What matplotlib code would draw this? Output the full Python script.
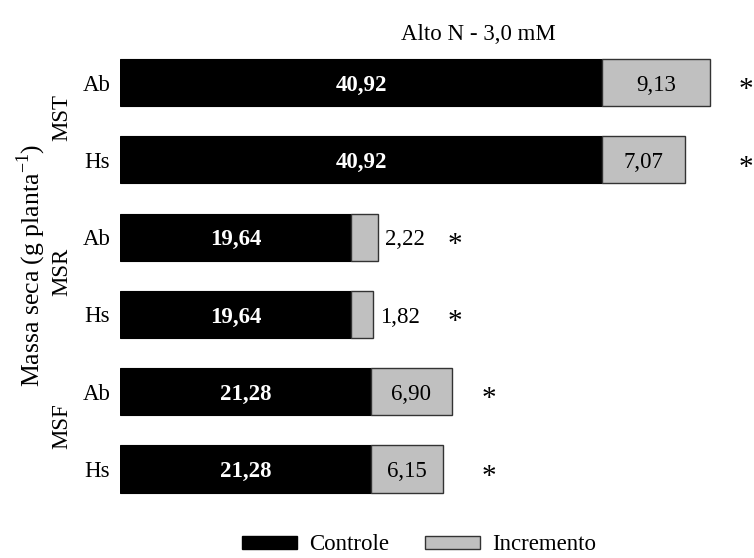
import matplotlib
matplotlib.use("Agg")
import matplotlib.pyplot as plt
from matplotlib.patches import Patch

plt.rcParams['font.family'] = ['Liberation Serif', 'DejaVu Serif']
plt.rcParams['mathtext.fontset'] = 'custom'
plt.rcParams['mathtext.rm'] = 'Liberation Serif'

# Dry mass (g planta-1): control + increment, per organ group and inoculant
groups = ['MST', 'MSR', 'MSF']
genotypes = ['Ab', 'Hs', 'Ab', 'Hs', 'Ab', 'Hs']
controle = [40.92, 40.92, 19.64, 19.64, 21.28, 21.28]
incremento = [9.13, 7.07, 2.22, 1.82, 6.90, 6.15]
signif = ['*', '*', '*', '*', '*', '*']
title = 'Alto N - 3,0 mM'

FS = 16.5
W, H = 754, 558
fig = plt.figure(figsize=(W / 100, H / 100), dpi=100)
ax = fig.add_axes([120 / W, 48 / H, (W - 120) / W, 470 / H])
ax.set_xlim(0, 634 / 11.78)
ax.set_ylim(5.53, -0.55)

y = list(range(len(controle)))
ax.barh(y, controle, height=0.61, color='black', edgecolor='black', linewidth=0.8)
ax.barh(y, incremento, left=controle, height=0.61, color='#c0c0c0',
        edgecolor='#333333', linewidth=1.0)

dy = 0.035  # nudge so digits sit on the bar centre line
ends = []
for i, (c, inc) in enumerate(zip(controle, incremento)):
    ax.text(c / 2, i + dy, f"{c:.2f}".replace('.', ','), color='white', fontweight='bold',
            ha='center', va='center', fontsize=FS)
    lab = f"{inc:.2f}".replace('.', ',')
    if inc > 4:
        ax.text(c + inc / 2, i + dy, lab, ha='center', va='center', fontsize=FS)
        ends.append(c + inc)
    else:
        ax.text(c + inc + 0.6, i + dy, lab, ha='left', va='center', fontsize=FS)
        ends.append(c + inc + 0.6 + 2.9)

# significance marks aligned per group
for g in range(len(groups)):
    gx = max(ends[2 * g], ends[2 * g + 1]) + 3.1
    for i in (2 * g, 2 * g + 1):
        ax.text(gx, i + 0.1, signif[i], ha='center', va='center', fontsize=21,
                clip_on=False)

ax.set_yticks(y)
ax.set_yticklabels(genotypes, fontsize=FS)
ax.tick_params(axis='y', length=0, pad=7)
ax.set_xticks([])
for s in ax.spines.values():
    s.set_visible(False)

# group labels
for g, name in enumerate(groups):
    ax.text(-58 / 11.78, 2 * g + 0.45, name, rotation=90, ha='center', va='center',
            fontsize=FS)

fig.text(31 / W, 1 - 265 / H, 'Massa seca (g planta$^{-1}$)', rotation=90,
         ha='center', va='center', fontsize=18.5)
fig.text(478 / W, 1 - 35 / H, title, ha='center', va='center', fontsize=FS)

handles = [Patch(facecolor='black', edgecolor='black', label='Controle'),
           Patch(facecolor='#c0c0c0', edgecolor='#333333', label='Incremento')]
fig.legend(handles=handles, loc='center', bbox_to_anchor=(419 / W, 1 - 545 / H), ncol=2,
           frameon=False, handlelength=2.4, handleheight=0.5, columnspacing=1.6,
           handletextpad=0.5, fontsize=FS)

fig.savefig('out.png', dpi=100)
